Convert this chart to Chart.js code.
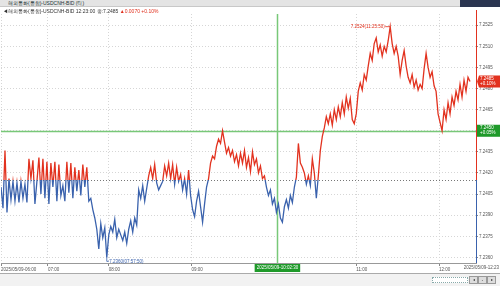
<!DOCTYPE html>
<html>
<head>
<meta charset="utf-8">
<script src="https://cdn.jsdelivr.net/npm/chart.js@4.4.1/dist/chart.umd.min.js"></script>
<style>
  html, body { margin: 0; padding: 0; background: #fff; }
  #wrap { position: relative; width: 500px; height: 286px; overflow: hidden; background: #fff;
          font-family: "Liberation Sans", Arial, sans-serif; }
  #c { position: absolute; left: 0; top: 0; }
  #titleBar { position: absolute; left: 0; top: 0; width: 500px; height: 7px; background: #e4e4e4;
              border-bottom: 1px solid #c8c8c8; font-size: 5px; line-height: 7px; color: #233; padding-left: 8px; box-sizing: border-box; }
  #winBtns { position: absolute; right: 0; top: 0; width: 40px; height: 7px; background: #2b3550; }
  #info { position: absolute; left: 3px; top: 8px; font-size: 5px; line-height: 6px; color: #333; white-space: nowrap; }
  #info .up { color: #e0301e; }
  #endLabel { position: absolute; right: 1px; top: 264px; font-size: 4.5px; line-height: 7px; color: #555; }
  #scroll { position: absolute; left: 0; top: 273px; width: 500px; height: 13px; background: #f2f2f2; border-top: 1px solid #aaa; }
  #track { position: absolute; left: 432px; top: 3px; width: 34px; height: 4px; border: 1px dotted #8aa; background: #fff; }
  .btn { position: absolute; top: 2px; width: 7px; height: 6px; background: #ddd; border: 1px solid #999; font-size: 4px; line-height: 6px; text-align: center; color: #333; }
</style>
</head>
<body>
<div id="wrap">
  <canvas id="c" width="500" height="286"></canvas>
  <div id="titleBar">해외통화(통합)-USDCNH-BID (틱)<div id="winBtns"></div></div>
  <div id="info">◀해외통화(통합)-USDCNH-BID 12:23:00 종:7.2485 <span class="up">▲0.0070 +0.10%</span></div>
  <div id="endLabel">2025/05/09-12:23</div>
  <div id="scroll">
    <div id="track"></div>
    <div class="btn" style="left:469px">&#9666;</div>
    <div class="btn" style="left:478px">-</div>
    <div class="btn" style="left:487px">&#9656;</div>
  </div>
</div>
<script>
// tick prices, one per sample (left to right)
const prices = [
  7.2410, 7.2395, 7.2436, 7.2392, 7.2416, 7.2401, 7.2414, 7.2400, 7.2413, 7.2399,
  7.2414, 7.2402, 7.2412, 7.2399, 7.2430, 7.2416, 7.2429, 7.2398, 7.2414, 7.2431,
  7.2405, 7.2430, 7.2402, 7.2428, 7.2398, 7.2427, 7.2410, 7.2428, 7.2400, 7.2426,
  7.2404, 7.2411, 7.2400, 7.2428, 7.2406, 7.2427, 7.2402, 7.2424, 7.2407, 7.2422,
  7.2404, 7.2426, 7.2410, 7.2424, 7.2400, 7.2402, 7.2394, 7.2388, 7.2380, 7.2366,
  7.2384, 7.2374, 7.2381, 7.2360, 7.2376, 7.2382, 7.2378, 7.2387, 7.2374, 7.2380,
  7.2376, 7.2372, 7.2378, 7.2370, 7.2380, 7.2386, 7.2378, 7.2388, 7.2383, 7.2408,
  7.2402, 7.2411, 7.2400, 7.2409, 7.2418, 7.2424, 7.2416, 7.2426, 7.2413, 7.2408,
  7.2411, 7.2414, 7.2425, 7.2418, 7.2427, 7.2416, 7.2426, 7.2412, 7.2424, 7.2414,
  7.2419, 7.2408, 7.2416, 7.2405, 7.2422, 7.2404, 7.2394, 7.2389, 7.2400, 7.2407,
  7.2396, 7.2385, 7.2398, 7.2410, 7.2416, 7.2427, 7.2432, 7.2430, 7.2439, 7.2444,
  7.2441, 7.2450, 7.2442, 7.2434, 7.2438, 7.2432, 7.2436, 7.2428, 7.2433, 7.2425,
  7.2434, 7.2427, 7.2436, 7.2424, 7.2431, 7.2421, 7.2435, 7.2426, 7.2430, 7.2420,
  7.2425, 7.2416, 7.2418, 7.2410, 7.2404, 7.2408, 7.2398, 7.2402, 7.2392, 7.2398,
  7.2388, 7.2385, 7.2396, 7.2401, 7.2395, 7.2404, 7.2399, 7.2410, 7.2417, 7.2441,
  7.2427, 7.2424, 7.2420, 7.2412, 7.2418, 7.2411, 7.2430, 7.2420, 7.2402, 7.2418,
  7.2436, 7.2446, 7.2452, 7.2460, 7.2455, 7.2462, 7.2454, 7.2465, 7.2458, 7.2467,
  7.2460, 7.2470, 7.2462, 7.2474, 7.2466, 7.2473, 7.2458, 7.2455, 7.2462, 7.2478,
  7.2484, 7.2479, 7.2490, 7.2486, 7.2496, 7.2505, 7.2500, 7.2512, 7.2516, 7.2506,
  7.2511, 7.2503, 7.2510, 7.2506, 7.2514, 7.2524, 7.2512, 7.2505, 7.2510, 7.2503,
  7.2490, 7.2500, 7.2507, 7.2496, 7.2488, 7.2484, 7.2490, 7.2481, 7.2486, 7.2479,
  7.2483, 7.2480, 7.2494, 7.2505, 7.2495, 7.2488, 7.2492, 7.2482, 7.2478, 7.2462,
  7.2456, 7.2450, 7.2465, 7.2458, 7.2470, 7.2462, 7.2474, 7.2468, 7.2478, 7.2472,
  7.2483, 7.2474, 7.2486, 7.2478, 7.2488, 7.2485
];

// sample index where each time label sits
const timeTickIdx = [0, 23.5, 54, 95.5, 178, 219.5];
const timeTickLabels = ['2025/05/09-06:00', '07:00', '08:00', '09:00', '11:00', '12:00'];
const sampleCount = 238;

const priceTicks = [7.2360, 7.2375, 7.2390, 7.2405, 7.2420, 7.2435, 7.2450, 7.2465, 7.2480, 7.2495, 7.2510, 7.2525];
const prevClose = 7.2415;
const lastChange = '+0.10%';

// crosshair
const crossIdx = 138.5;
const crossPrice = 7.2450;
const crossTime = '2025/05/09-10:02:30';
const crossChange = '+0.05%';

const minTime = '07:57:50';
const maxTime = '11:25:50';

const RED = '#e2321f';
const BLUE = '#3a62ad';
const GREEN = 'rgb(120, 200, 120)';
const FONT = '"Liberation Sans", Arial, sans-serif';

function splitColor(context) {
  const chart = context.chart;
  const { ctx, chartArea, scales } = chart;
  if (!chartArea) return RED;
  const yb = scales.y.getPixelForValue(prevClose);
  const g = ctx.createLinearGradient(0, chartArea.top, 0, chartArea.bottom);
  let s = (yb - chartArea.top) / (chartArea.bottom - chartArea.top);
  s = Math.min(Math.max(s, 0), 1);
  g.addColorStop(0, RED);
  g.addColorStop(s, RED);
  g.addColorStop(s, BLUE);
  g.addColorStop(1, BLUE);
  return g;
}

const overlay = {
  id: 'overlay',
  beforeDatasetsDraw(chart) {
    const { ctx, chartArea: a, scales: { x, y } } = chart;
    ctx.save();
    // previous close
    const yb = Math.round(y.getPixelForValue(prevClose)) + 0.5;
    ctx.strokeStyle = '#777';
    ctx.lineWidth = 1;
    ctx.setLineDash([1, 2]);
    ctx.beginPath(); ctx.moveTo(a.left, yb); ctx.lineTo(a.right, yb); ctx.stroke();
    ctx.setLineDash([]);
    // crosshair
    const cx = Math.round(x.getPixelForValue(crossIdx));
    const cy = Math.round(y.getPixelForValue(crossPrice));
    ctx.fillStyle = GREEN;
    ctx.fillRect(cx - 0.25, a.top, 1.5, a.bottom - a.top);
    ctx.fillRect(a.left, cy - 0.25, a.right - a.left, 1.5);
    ctx.restore();
  },
  afterDraw(chart) {
    const { ctx, chartArea: a, scales: { x, y } } = chart;
    ctx.save();
    const yb = y.getPixelForValue(prevClose);
    const rx = Math.round(a.right) + 0.5;
    // right price axis line, split at previous close
    ctx.lineWidth = 1;
    ctx.strokeStyle = RED;
    ctx.beginPath(); ctx.moveTo(rx, a.top - 4); ctx.lineTo(rx, yb); ctx.stroke();
    ctx.strokeStyle = BLUE;
    ctx.beginPath(); ctx.moveTo(rx, yb); ctx.lineTo(rx, a.bottom); ctx.stroke();

    // last price box
    const last = prices[prices.length - 1];
    const ly = y.getPixelForValue(last);
    ctx.fillStyle = RED;
    ctx.beginPath();
    ctx.moveTo(a.right + 1, ly);
    ctx.lineTo(a.right + 3, ly - 6);
    ctx.lineTo(500, ly - 6);
    ctx.lineTo(500, ly + 6);
    ctx.lineTo(a.right + 3, ly + 6);
    ctx.closePath();
    ctx.fill();
    ctx.fillStyle = '#fff';
    ctx.font = '4.5px ' + FONT;
    ctx.textAlign = 'left';
    ctx.textBaseline = 'middle';
    ctx.fillText(last.toFixed(4), a.right + 4, ly - 2.5);
    ctx.fillText(lastChange, a.right + 4, ly + 2.5);

    // crosshair price box
    const cy = y.getPixelForValue(crossPrice);
    ctx.fillStyle = '#1f9a2a';
    ctx.fillRect(a.right + 1, cy - 6, 500 - a.right, 12);
    ctx.fillStyle = '#fff';
    ctx.fillText(crossPrice.toFixed(4), a.right + 4, cy - 2.5);
    ctx.fillText(crossChange, a.right + 4, cy + 2.5);

    // crosshair time box
    const cx = x.getPixelForValue(crossIdx);
    const tw = ctx.measureText(crossTime).width + 4;
    ctx.fillStyle = '#1f9a2a';
    ctx.fillRect(cx - tw / 2, a.bottom + 1, tw, 8);
    ctx.fillStyle = '#fff';
    ctx.textAlign = 'center';
    ctx.fillText(crossTime, cx, a.bottom + 5);

    // low / high marks
    let minI = 0, maxI = 0;
    prices.forEach((v, i) => {
      if (v < prices[minI]) minI = i;
      if (v > prices[maxI]) maxI = i;
    });
    const mnx = x.getPixelForValue(minI), mny = y.getPixelForValue(prices[minI]);
    ctx.strokeStyle = BLUE;
    ctx.lineWidth = 0.8;
    ctx.beginPath(); ctx.moveTo(mnx, mny); ctx.lineTo(mnx, mny + 4); ctx.lineTo(mnx + 2, mny + 4); ctx.stroke();
    ctx.fillStyle = BLUE;
    ctx.textAlign = 'left';
    ctx.fillText(prices[minI].toFixed(4) + '(' + minTime + ')', mnx + 2.5, mny + 4);

    const mxx = x.getPixelForValue(maxI), mxy = y.getPixelForValue(prices[maxI]);
    ctx.strokeStyle = RED;
    ctx.beginPath(); ctx.moveTo(mxx, mxy); ctx.lineTo(mxx - 5, mxy); ctx.stroke();
    ctx.fillStyle = RED;
    ctx.textAlign = 'right';
    ctx.fillText(prices[maxI].toFixed(4) + '(' + maxTime + ')', mxx - 5.5, mxy);
    ctx.restore();
  }
};

new Chart(document.getElementById('c'), {
  type: 'line',
  data: {
    datasets: [{
      data: prices.map((v, i) => ({ x: i, y: v })),
      borderColor: splitColor,
      borderWidth: 1.3,
      pointRadius: 0,
      tension: 0,
      fill: false
    }]
  },
  options: {
    responsive: false,
    animation: false,
    events: [],
    layout: { padding: { top: 14, bottom: 13, left: 0, right: 0 } },
    plugins: { legend: { display: false }, tooltip: { enabled: false } },
    scales: {
      x: {
        type: 'linear',
        min: 0,
        max: sampleCount,
        afterBuildTicks: (s) => { s.ticks = timeTickIdx.map(v => ({ value: v })); },
        afterFit: (s) => { s.height = 10; },
        ticks: {
          autoSkip: false,
          maxRotation: 0,
          align: 'start',
          padding: 1,
          color: '#555',
          font: { family: FONT, size: 4.5 },
          callback: (v, i) => timeTickLabels[i]
        },
        grid: { color: '#d6d6d6', tickColor: '#888', tickLength: 3, tickBorderDash: [] },
        border: { color: '#999', dash: [1, 2] }
      },
      y: {
        position: 'right',
        min: 7.2356,
        max: 7.2533,
        afterBuildTicks: (s) => { s.ticks = priceTicks.map(v => ({ value: v })); },
        afterFit: (s) => { s.width = 24; },
        ticks: {
          padding: 1,
          color: '#555',
          font: { family: FONT, size: 4.5 },
          callback: (v) => v.toFixed(4)
        },
        grid: { color: '#d6d6d6', tickColor: '#888', tickLength: 2, tickBorderDash: [] },
        border: { display: false, dash: [1, 2] }
      }
    }
  },
  plugins: [overlay]
});
</script>
</body>
</html>
